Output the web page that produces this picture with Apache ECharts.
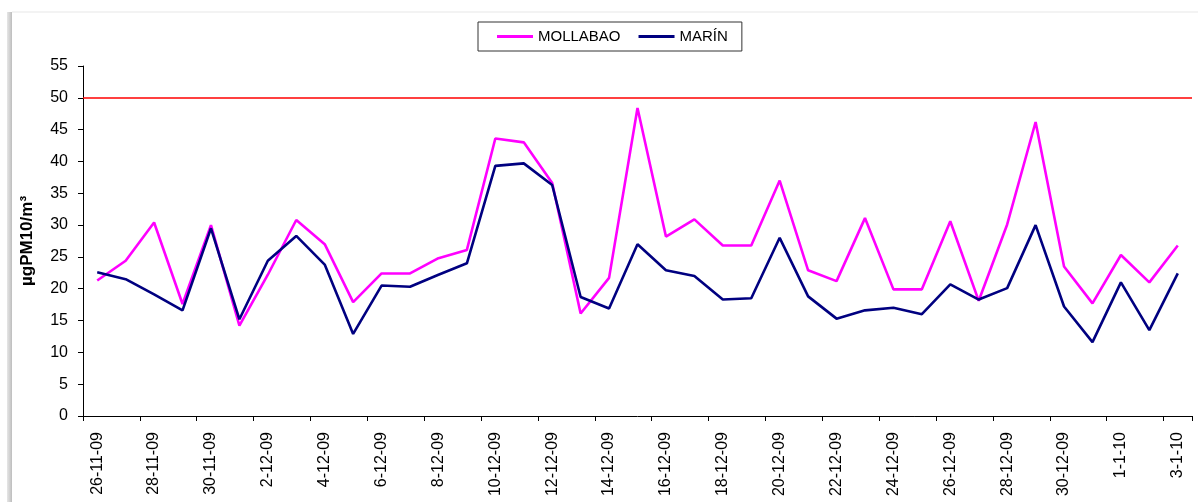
<!DOCTYPE html>
<html>
<head>
<meta charset="utf-8">
<script src="https://cdn.jsdelivr.net/npm/echarts@6/dist/echarts.min.js"></script>
<style>
html,body{margin:0;padding:0;background:#fff;}
#c{width:1198px;height:502px;}
</style>
</head>
<body>
<div id="c"></div>
<script>
const categories = ['26-11-09','27-11-09','28-11-09','29-11-09','30-11-09',
  '1-12-09','2-12-09','3-12-09','4-12-09','5-12-09','6-12-09','7-12-09','8-12-09','9-12-09',
  '10-12-09','11-12-09','12-12-09','13-12-09','14-12-09','15-12-09','16-12-09','17-12-09',
  '18-12-09','19-12-09','20-12-09','21-12-09','22-12-09','23-12-09','24-12-09','25-12-09',
  '26-12-09','27-12-09','28-12-09','29-12-09','30-12-09','31-12-09','1-1-10','2-1-10','3-1-10'];
const mollabao = [21.3, 24.4, 30.4, 17.6, 30.0, 14.2, 22.2, 30.8, 27.0, 17.9, 22.4, 22.4, 24.8, 26.1,
  43.6, 43.0, 36.6, 16.1, 21.7, 48.4, 28.2, 30.9, 26.8, 26.8, 37.0, 22.9, 21.2, 31.1, 19.9, 19.9,
  30.6, 18.1, 30.1, 46.2, 23.5, 17.7, 25.3, 21.0, 26.8];
const marin = [22.6, 21.5, 19.1, 16.6, 29.5, 15.2, 24.4, 28.3, 23.8, 12.9, 20.5, 20.3, 22.2, 24.0,
  39.3, 39.7, 36.3, 18.7, 16.9, 27.0, 22.9, 22.0, 18.3, 18.5, 28.0, 18.8, 15.3, 16.6, 17.0, 16.0,
  20.7, 18.3, 20.1, 30.0, 17.2, 11.6, 21.0, 13.5, 22.4];
const limitValue = 50;
const seriesNames = ['MOLLABAO', 'MARÍN'];
const yTicks = {min: 0, max: 55, interval: 5};

const FONT = "'Liberation Sans', Arial, sans-serif";
const chart = echarts.init(document.getElementById('c'), null, {renderer: 'canvas'});
chart.setOption({
  backgroundColor: '#ffffff',
  animation: false,
  textStyle: {fontFamily: FONT},
  graphic: [
    {type: 'rect', left: 7, top: 12, shape: {width: 5, height: 490},
     style: {fill: new echarts.graphic.LinearGradient(0, 0, 1, 0, [
       {offset: 0, color: '#e6e6e6'}, {offset: 0.6, color: '#cfcfcf'}, {offset: 1, color: '#bdbdbd'}])}, silent: true},
    {type: 'rect', left: 12, top: 11, shape: {width: 1186, height: 2},
     style: {fill: '#f3f3f3'}, silent: true}
  ],
  legend: {
    data: seriesNames,
    left: 478, top: 22,
    padding: [7, 14, 7, 19],
    itemGap: 18,
    itemWidth: 36, itemHeight: 3,
    icon: 'rect',
    borderColor: '#333333', borderWidth: 1,
    textStyle: {fontSize: 15, color: '#000', fontFamily: FONT}
  },
  grid: {left: 83, right: 6, top: 66, bottom: 86, containLabel: false},
  xAxis: {
    type: 'category',
    data: categories,
    boundaryGap: true,
    axisLine: {lineStyle: {color: '#000', width: 1}},
    axisTick: {show: true, interval: 1, length: 5, lineStyle: {color: '#000'}},
    axisLabel: {interval: 1, rotate: 90, margin: 16, fontSize: 16, color: '#000', fontFamily: FONT},
    splitLine: {show: false}
  },
  yAxis: {
    type: 'value',
    min: yTicks.min, max: yTicks.max, interval: yTicks.interval,
    name: 'µgPM10/m³',
    nameLocation: 'middle',
    nameGap: 47,
    nameRotate: 90,
    nameTextStyle: {fontSize: 17, fontWeight: 'bold', color: '#000', fontFamily: FONT},
    axisLine: {show: true, lineStyle: {color: '#000', width: 1}},
    axisTick: {show: true, inside: false, length: 5, lineStyle: {color: '#000'}},
    axisLabel: {margin: 15, fontSize: 16, color: '#000', fontFamily: FONT},
    splitLine: {show: false}
  },
  series: [
    {
      name: seriesNames[0], type: 'line', data: mollabao,
      symbol: 'none', smooth: false,
      lineStyle: {color: '#FF00FF', width: 2.6},
      itemStyle: {color: '#FF00FF'},
      markLine: {
        silent: true, symbol: 'none', animation: false,
        label: {show: false},
        lineStyle: {color: '#FF0000', width: 1.5, type: 'solid'},
        data: [{yAxis: limitValue}]
      },
      z: 2
    },
    {
      name: seriesNames[1], type: 'line', data: marin,
      symbol: 'none', smooth: false,
      lineStyle: {color: '#000080', width: 2.6},
      itemStyle: {color: '#000080'},
      z: 3
    }
  ]
});
</script>
</body>
</html>
